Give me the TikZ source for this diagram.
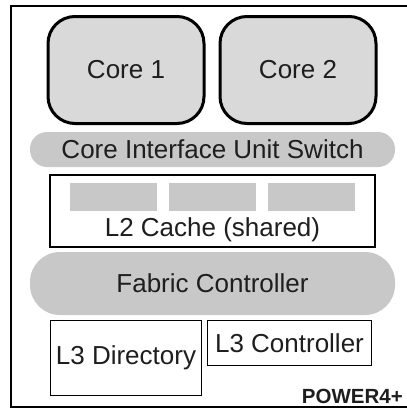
\documentclass[tikz,border=0pt]{standalone}
\usepackage{fontspec}
\setmainfont{Liberation Sans}

\definecolor{kerngrau}{RGB}{217,217,217}
\definecolor{blockgrau}{RGB}{200,200,200}
\definecolor{schrift}{RGB}{30,30,30}

\begin{document}
\begin{tikzpicture}[x=1pt,y=-1pt,
    every node/.style={text=schrift, font=\fontsize{26}{30}\selectfont, inner sep=0pt},
    kern/.style={draw=black, line width=3pt, fill=kerngrau, rounded corners=27pt,
        minimum width=156pt, minimum height=107pt},
    bus/.style={fill=blockgrau, rounded corners=#1, minimum width=365pt},
    kasten/.style={draw=black, line width=1.4pt, fill=white}]

    % Rahmen
    \useasboundingbox (0,0) rectangle (407,410);
    \clip (0,0) rectangle (407,410);
    \draw[line width=2pt] (11,6) rectangle (440,407);

    % Kerne
    \node[kern] (core1) at (126,70) {Core 1};
    \node[kern] (core2) at (298,70) {Core 2};

    % Schalter
    \node[bus=17pt, minimum height=35pt] (ciu) at (212.5,149.5) {Core Interface Unit Switch};

    % L2-Cache mit drei Bloecken
    \node[kasten, minimum width=325pt, minimum height=72pt] (l2) at (212.5,211) {};
    \foreach \x in {70,169,268} {
        \fill[blockgrau] (\x,183) rectangle ++(87,28);
    }
    \node (l2text) at (212.5,230) {L2 Cache (shared)};

    % Fabric
    \node[bus=30pt, minimum height=63pt] (fabric) at (212.5,283.5) {Fabric Controller};

    % L3
    \node[kasten, minimum width=151pt, minimum height=75pt] (l3dir) at (126,358) {L3 Directory};
    \node[kasten, minimum width=164pt, minimum height=45pt] (l3ctrl) at (289.5,343) {L3 Controller};

    % Name
    \node[anchor=base east, font=\fontsize{20.5}{24}\selectfont\bfseries] (name) at (403,403) {POWER4+};
\end{tikzpicture}
\end{document}
